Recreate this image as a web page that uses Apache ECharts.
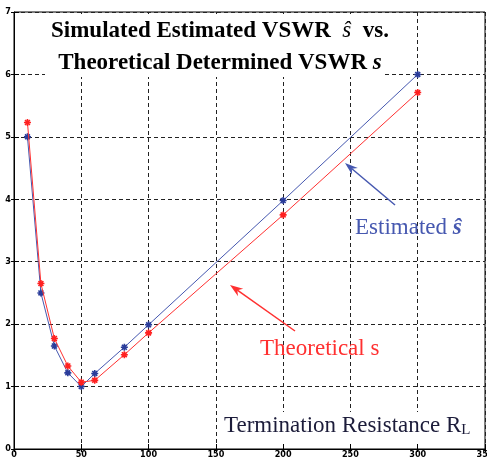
<!DOCTYPE html>
<html>
<head>
<meta charset="utf-8">
<script src="https://cdn.jsdelivr.net/npm/echarts@6/dist/echarts.min.js"></script>
<style>html,body{margin:0;padding:0;background:#fff;}#c{width:487px;height:467px;}</style>
</head>
<body>
<div id="c"></div>
<script>
// Termination resistance R_L (x values)
var resistance = [10, 20, 30, 40, 50, 60, 82, 100, 200, 300];
// Simulated estimated VSWR (blue)
var estimatedVSWR = [5.0, 2.5, 1.65, 1.22, 1.0, 1.21, 1.63, 1.99, 3.98, 6.0];
// Theoretical determined VSWR (red)
var theoreticalVSWR = [5.23, 2.65, 1.77, 1.33, 1.07, 1.10, 1.51, 1.86, 3.75, 5.71];
// Axis ticks
var xTicks = [0, 50, 100, 150, 200, 250, 300, 350];
var yTicks = [0, 1, 2, 3, 4, 5, 6, 7];

var BLUE = '#4658b0';
var RED = '#ff3030';
var ASTER = 'path://M0,-10L0,10M-10,0L10,0M-7,-7L7,7M-7,7L7,-7';

function pairs(xs, ys) { return xs.map(function (x, i) { return [x, ys[i]]; }); }

function arrow(x1, y1, x2, y2, color) {
  var dx = x2 - x1, dy = y2 - y1, L = Math.sqrt(dx * dx + dy * dy);
  var ux = dx / L, uy = dy / L, px = -uy, py = ux;
  var len = 13, hw = 4.5, notch = 9;
  var bx = x2 - len * ux, by = y2 - len * uy;
  var nx = x2 - notch * ux, ny = y2 - notch * uy;
  return [
    { type: 'line', z: 120, shape: { x1: x1, y1: y1, x2: nx, y2: ny }, style: { stroke: color, lineWidth: 1.5 } },
    { type: 'polygon', z: 120, shape: { points: [[x2, y2], [bx + hw * px, by + hw * py], [nx, ny], [bx - hw * px, by - hw * py]] }, style: { fill: color } }
  ];
}

var chart = echarts.init(document.getElementById('c'), null, { renderer: 'canvas' });

var labelFont = { fontFamily: 'DejaVu Sans Condensed', fontWeight: 'bold', fontSize: 9, color: '#000' };

var graphics = [
  { type: 'rect', z: 100, shape: { x: 45, y: 14, width: 338, height: 63 }, style: { fill: '#fff' } },
  {
    type: 'text', z: 110, x: 220, y: 15,
    style: {
      text: '{b|Simulated Estimated VSWR  }{i|ŝ}{b|  vs.}\n{b|Theoretical Determined VSWR }{bi|s}',
      align: 'center', verticalAlign: 'top',
      rich: {
        b: { fontFamily: 'Liberation Serif', fontWeight: 'bold', fontSize: 23, lineHeight: 32, fill: '#000' },
        i: { fontFamily: 'Liberation Serif', fontStyle: 'italic', fontSize: 23, lineHeight: 32, fill: '#000' },
        bi: { fontFamily: 'Liberation Serif', fontStyle: 'italic', fontWeight: 'bold', fontSize: 23, lineHeight: 32, fill: '#000' }
      }
    }
  },
  { type: 'rect', z: 100, shape: { x: 220, y: 412, width: 262, height: 31 }, style: { fill: '#fff' } },
  {
    type: 'text', z: 110, x: 224, y: 414,
    style: {
      text: '{m|Termination Resistance R}{s|L}',
      align: 'left', verticalAlign: 'top',
      rich: {
        m: { fontFamily: 'Liberation Serif', fontSize: 23, lineHeight: 24, fill: '#1c1c3a' },
        s: { fontFamily: 'Liberation Serif', fontSize: 15, lineHeight: 10, verticalAlign: 'bottom', fill: '#1c1c3a' }
      }
    }
  },
  {
    type: 'text', z: 110, x: 355, y: 215,
    style: {
      text: '{m|Estimated }{h|ŝ}',
      align: 'left', verticalAlign: 'top',
      rich: {
        m: { fontFamily: 'Liberation Serif', fontSize: 23, lineHeight: 26, fill: BLUE },
        h: { fontFamily: 'Liberation Serif', fontStyle: 'italic', fontWeight: 'bold', fontSize: 23, lineHeight: 26, fill: BLUE }
      }
    }
  },
  {
    type: 'text', z: 110, x: 260, y: 337,
    style: {
      text: 'Theoretical s',
      align: 'left', verticalAlign: 'top',
      fontFamily: 'Liberation Serif', fontSize: 23, fill: RED
    }
  }
].concat(arrow(395, 205, 345, 163, BLUE)).concat(arrow(295, 331, 230, 285, RED));

var option = {
  animation: false,
  backgroundColor: '#fff',
  grid: { left: 14, right: 2, top: 12, bottom: 18, containLabel: false, outerBoundsMode: 'none', show: true, borderColor: '#000', borderWidth: 1, backgroundColor: 'transparent' },
  xAxis: [{
    type: 'value', min: xTicks[0], max: xTicks[xTicks.length - 1], interval: 50,
    axisLine: { show: true, onZero: false, lineStyle: { color: '#000', width: 1 } },
    axisTick: { show: true, inside: true, length: 5, lineStyle: { color: '#000' } },
    axisLabel: Object.assign({ margin: 1, hideOverlap: false }, labelFont),
    splitLine: { show: true, lineStyle: { color: '#222', type: [4, 3], width: 1 } }
  }, {
    type: 'value', position: 'top', min: xTicks[0], max: xTicks[xTicks.length - 1], interval: 50,
    axisLine: { show: false }, axisTick: { show: true, inside: true, length: 3, lineStyle: { color: '#000' } },
    axisLabel: { show: false }, splitLine: { show: false }
  }],
  yAxis: [{
    type: 'value', min: yTicks[0], max: yTicks[yTicks.length - 1], interval: 1,
    axisLine: { show: true, onZero: false, lineStyle: { color: '#000', width: 1 } },
    axisTick: { show: true, inside: true, length: 5, lineStyle: { color: '#000' } },
    axisLabel: Object.assign({ margin: 3 }, labelFont),
    splitLine: { show: true, lineStyle: { color: '#222', type: [4, 3], width: 1 } }
  }, {
    type: 'value', position: 'right', min: yTicks[0], max: yTicks[yTicks.length - 1], interval: 1,
    axisLine: { show: false }, axisTick: { show: true, inside: true, length: 3, lineStyle: { color: '#000' } },
    axisLabel: { show: false }, splitLine: { show: false }
  }],
  series: [{
    name: 'Estimated', type: 'line', data: pairs(resistance, estimatedVSWR), z: 5,
    symbol: ASTER, symbolSize: 7, showAllSymbol: true,
    lineStyle: { color: BLUE, width: 1 },
    itemStyle: { color: BLUE, borderColor: '#2a3c9a', borderWidth: 1.6 }
  }, {
    name: 'Theoretical', type: 'line', data: pairs(resistance, theoreticalVSWR), z: 6,
    symbol: ASTER, symbolSize: 7, showAllSymbol: true,
    lineStyle: { color: RED, width: 1 },
    itemStyle: { color: RED, borderColor: '#ff2020', borderWidth: 1.6 }
  }],
  graphic: graphics
};
chart.setOption(option);
</script>
</body>
</html>
